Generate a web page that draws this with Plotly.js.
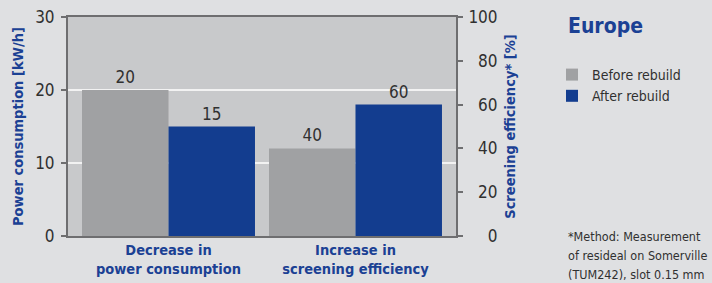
<!DOCTYPE html>
<html>
<head>
<meta charset="utf-8">
<script src="https://cdn.plot.ly/plotly-3.0.1.min.js"></script>
<style>html,body{margin:0;padding:0;background:#dfe0e2;}#chart{width:712px;height:283px;}</style>
</head>
<body>
<div id="chart"></div>
<script>
// Data
const categories = ["<b>Decrease in</b><br><b>power consumption</b>", "<b>Increase in</b><br><b>screening efficiency</b>"];
const seriesNames = ["Before rebuild", "After rebuild"];
const powerValues = [20, 15];        // kW/h, left axis (category 1)
const efficiencyValues = [40, 60];   // %, right axis (category 2)
const leftTicks = [0, 10, 20, 30];
const rightTicks = [0, 20, 40, 60, 80, 100];
const rightTickText = ["\u2007\u20070", "\u200720", "\u200740", "\u200760", "\u200780", "100"];
const footnoteLines = ["*Method: Measurement", "of resideal on Somerville", "(TUM242), slot 0.15 mm"];

const FONT = "'DejaVu Sans Condensed', 'Roboto', sans-serif";
const GRAY = "#a0a1a3";
const BLUE = "#133d8f";
const TITLEBLUE = "#1b4194";
const TXT = "#303030";
const colors = [GRAY, BLUE];

const traces = [];
for (let i = 0; i < 2; i++) {
  traces.push({
    type: "bar", name: seriesNames[i], x: [0], y: [powerValues[i]], yaxis: "y",
    offsetgroup: String(i), marker: {color: colors[i]},
    text: [String(powerValues[i])], textposition: "outside", cliponaxis: false,
    textfont: {family: FONT, size: 17, color: TXT}, legendrank: i + 1, hoverinfo: "skip"
  });
}
for (let i = 0; i < 2; i++) {
  traces.push({
    type: "bar", name: seriesNames[i], x: [1], y: [efficiencyValues[i]], yaxis: "y2",
    offsetgroup: String(i), marker: {color: colors[i]}, showlegend: false,
    text: [String(efficiencyValues[i])], textposition: "outside", cliponaxis: false,
    textfont: {family: FONT, size: 17, color: TXT}, hoverinfo: "skip"
  });
}

const L = 68, R = 456, T = 17, B = 236;
const px = v => (v - L) / (R - L);
const py = v => (B - v) / (B - T);

const annotations = [
  {text: "<b>Europe</b>", xref: "paper", yref: "paper", x: px(566), y: py(26), xanchor: "left", yanchor: "middle",
   showarrow: false, font: {family: FONT, size: 21, color: TITLEBLUE}}
];
footnoteLines.forEach((t, k) => {
  annotations.push({text: t, xref: "paper", yref: "paper", x: px(566), y: py(236 + 19 * k), xanchor: "left", yanchor: "middle",
    showarrow: false, font: {family: FONT, size: 12.5, color: TXT}});
});

const layout = {
  width: 712, height: 283,
  margin: {l: L, r: 712 - R, t: T, b: 283 - B},
  paper_bgcolor: "#dfe0e2", plot_bgcolor: "#c8c9cb",
  barmode: "group", bargap: 0.075, bargroupgap: 0,
  font: {family: FONT, color: TXT},
  showlegend: true,
  legend: {
    x: 552 / 712, xref: "container", y: 1 - 59 / 283, yref: "container", xanchor: "left", yanchor: "top",
    bgcolor: "rgba(0,0,0,0)", font: {family: FONT, size: 14, color: TXT},
    traceorder: "normal", itemwidth: 30, tracegroupgap: 0
  },
  xaxis: {
    range: [-0.5375, 1.5375], tickvals: [0, 1], ticktext: categories,
    tickfont: {family: FONT, size: 14.5, color: TITLEBLUE},
    showline: true, linecolor: "#6e6e70", linewidth: 2, mirror: true,
    ticks: "", showgrid: false, zeroline: false, fixedrange: true
  },
  yaxis: {
    range: [0, 30], tickvals: leftTicks, ticks: "outside", ticklen: 5, tickwidth: 2, tickcolor: "#6e6e70",
    showline: true, linecolor: "#6e6e70", linewidth: 2,
    showgrid: true, gridcolor: "#f2f2f2", gridwidth: 1.5, zeroline: false,
    tickfont: {family: FONT, size: 17, color: TXT}, ticklabelstandoff: 3,
    title: {text: "<b>Power consumption [kW/h]</b>", font: {family: FONT, size: 14.5, color: TITLEBLUE}, standoff: 8},
    fixedrange: true
  },
  yaxis2: {
    range: [0, 100], tickvals: rightTicks, ticktext: rightTickText, overlaying: "y", side: "right", anchor: "x",
    ticks: "outside", ticklen: 5, tickwidth: 2, tickcolor: "#6e6e70",
    showline: true, linecolor: "#6e6e70", linewidth: 2,
    showgrid: false, zeroline: false,
    tickfont: {family: FONT, size: 17, color: TXT}, ticklabelstandoff: 2,
    title: {text: "<b>Screening efficiency* [%]</b>", font: {family: FONT, size: 14.5, color: TITLEBLUE}, standoff: 8},
    fixedrange: true
  },
  annotations: annotations
};

Plotly.newPlot("chart", traces, layout, {displayModeBar: false, staticPlot: true});
</script>
</body>
</html>
